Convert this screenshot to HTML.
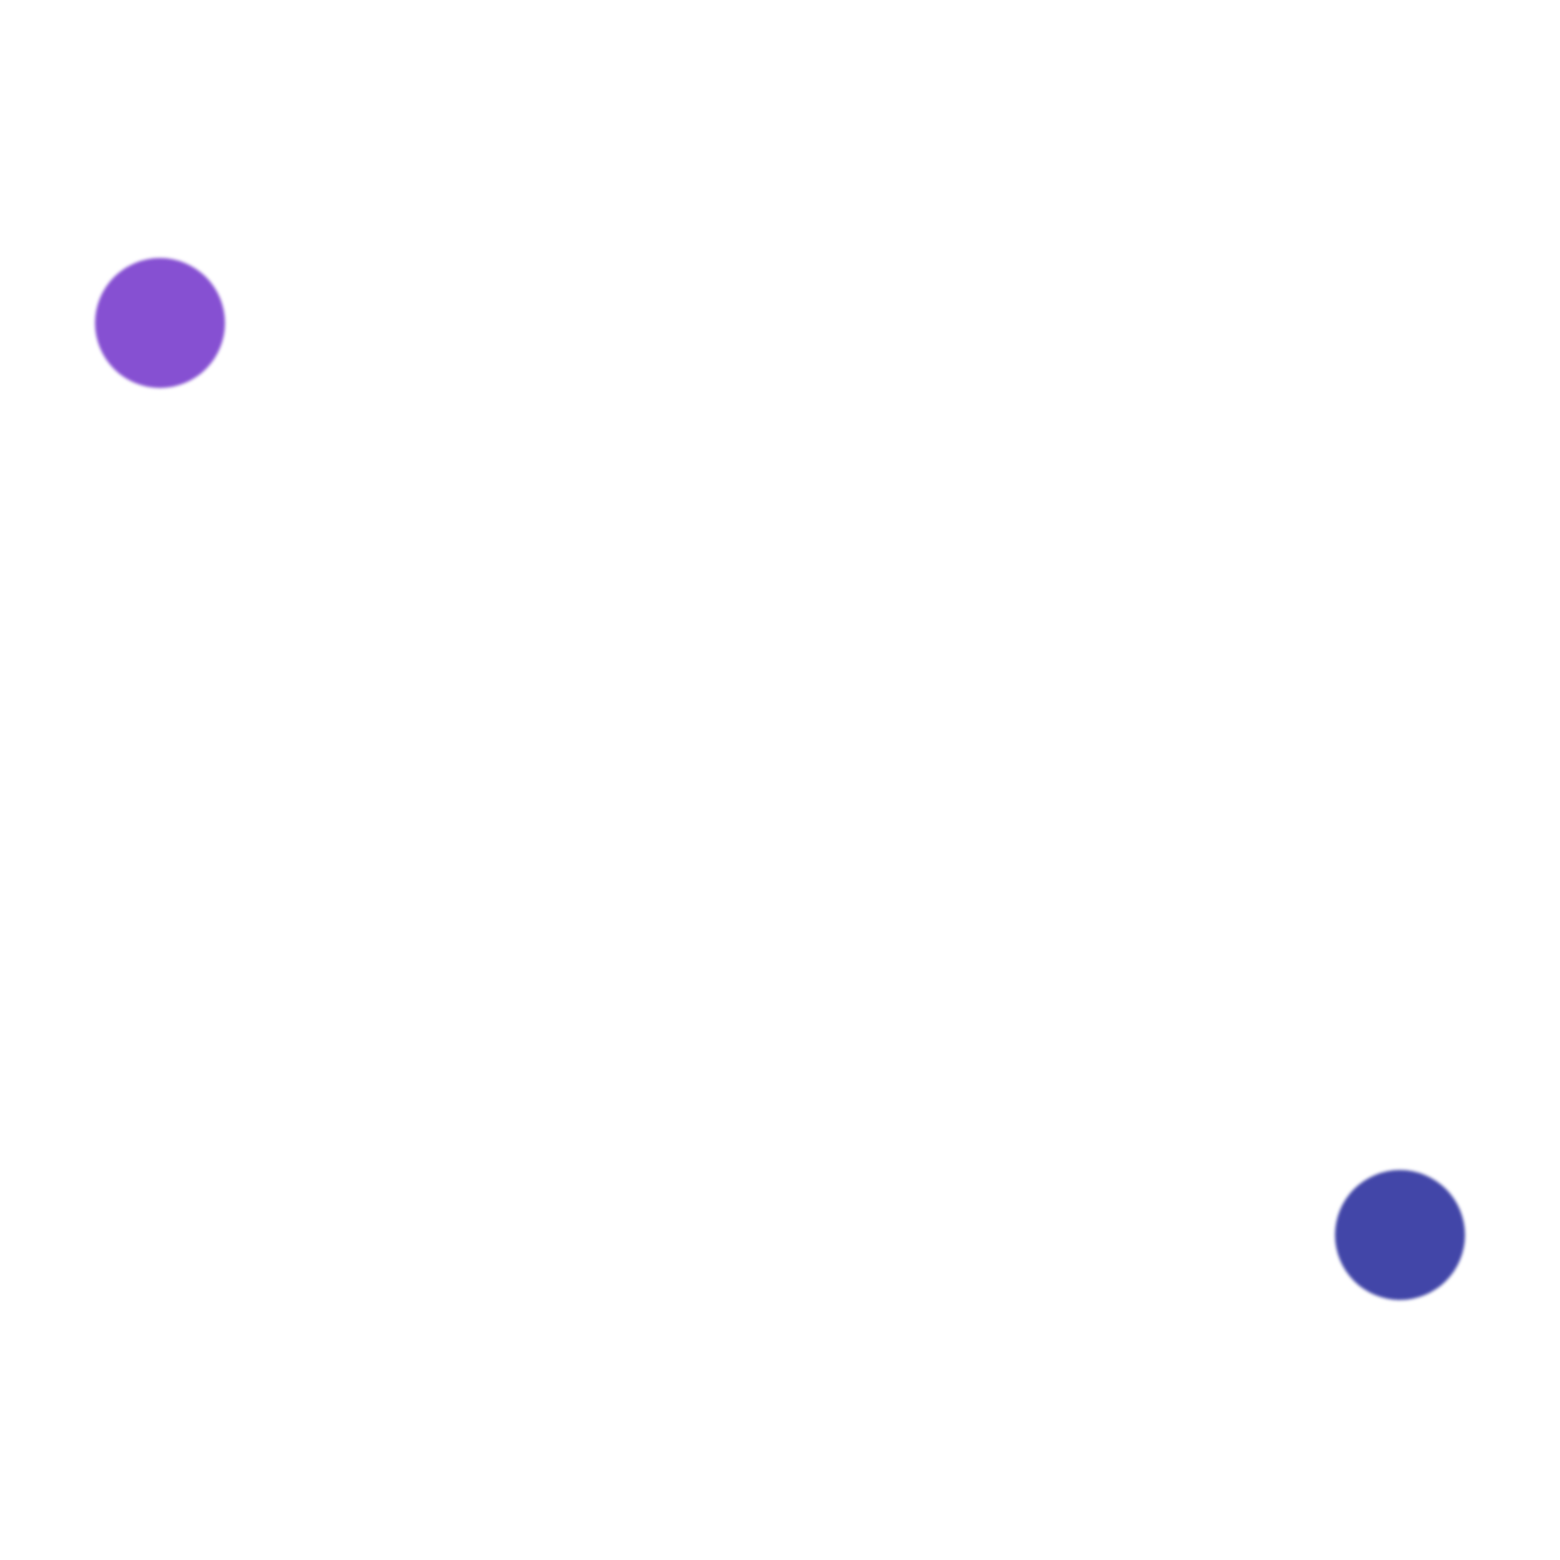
<!DOCTYPE html>
<html><head><style>
html,body{margin:0;padding:0;background:#fff;}
body{width:1560px;height:1560px;position:relative;overflow:hidden;}
.c{position:absolute;border-radius:50%;filter:blur(1.5px);}
</style></head><body>
<div class="c" style="left:95px;top:258px;width:130px;height:130px;background:#8650D2;"></div>
<div class="c" style="left:1335px;top:1170px;width:130px;height:130px;background:#4246A8;"></div>
</body></html>
